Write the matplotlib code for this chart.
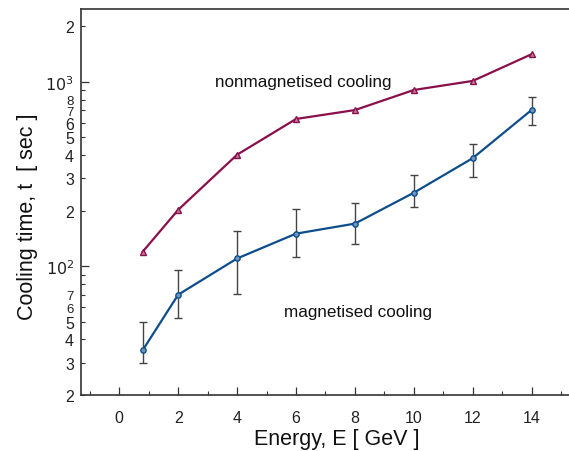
import matplotlib
matplotlib.use("Agg")
import matplotlib.pyplot as plt
import numpy as np
from matplotlib.ticker import FixedLocator, FixedFormatter

plt.rcParams['font.family'] = ['Liberation Sans', 'DejaVu Sans']

energy = [0.8, 2, 4, 6, 8, 10, 12, 14]
nonmag = [120, 202, 402, 628, 702, 902, 1010, 1410]
mag = [35.1, 70, 110, 150, 170, 250, 385, 703]
mag_hi = [49.8, 95, 155, 205, 221, 312, 459, 824]
mag_lo = [29.7, 52.6, 71, 112, 131, 210, 304, 586]

x_ticks = [0, 2, 4, 6, 8, 10, 12, 14]

fig = plt.figure(figsize=(5.69, 4.52), dpi=100)
ax = fig.add_axes([81/569, 56/452, 1 - 81/569, 386/452])

red = '#8a0f4a'
blue = '#0d4d8c'

ax.plot(energy, nonmag, color=red, lw=1.6, marker='^', ms=4.5,
        mfc='#c27a9a', mec=red, mew=1.0, zorder=3)
yerr = [np.array(mag) - np.array(mag_lo), np.array(mag_hi) - np.array(mag)]
ax.errorbar(energy, mag, yerr=yerr, fmt='none', ecolor='#444444', elinewidth=1.0,
            capsize=3, capthick=1.0, zorder=2)
ax.plot(energy, mag, color=blue, lw=1.6, marker='o', ms=3.8,
        mfc='#6f95c0', mec=blue, mew=1.0, zorder=3)

ax.set_yscale('log')
ax.set_ylim(20, 2480)
ax.set_xlim(-1.3, 15.27)

ax.xaxis.set_major_locator(FixedLocator(x_ticks))
ax.xaxis.set_minor_locator(FixedLocator([-1, 1, 3, 5, 7, 9, 11, 13, 15]))
ax.set_xticklabels([str(v) for v in x_ticks])

major_y = [100, 1000]
ax.yaxis.set_major_locator(FixedLocator(major_y))
ax.yaxis.set_major_formatter(FixedFormatter([r'$10^2$', r'$10^3$']))
minor_y = [20, 30, 40, 50, 60, 70, 80, 90, 200, 300, 400, 500, 600, 700, 800, 900, 2000]
minor_lab = ['2', '3', '4', '5', '6', '7', '', '', '2', '3', '4', '5', '6', '7', '8', '', '2']
ax.yaxis.set_minor_locator(FixedLocator(minor_y))
ax.yaxis.set_minor_formatter(FixedFormatter(minor_lab))

ax.tick_params(axis='both', which='major', direction='in', length=6, width=0.9,
               labelsize=11.5, colors='#333333', labelcolor='#222222')
ax.tick_params(axis='both', which='minor', direction='in', length=3, width=0.8,
               labelsize=11.5, colors='#333333', labelcolor='#222222')
ax.tick_params(axis='x', which='major', pad=11)
ax.tick_params(axis='y', which='both', pad=5)

# squeeze the crowded labels a bit
for lbl, val in zip(ax.yaxis.get_minorticklabels(), minor_y):
    if val in (700, 800, 60, 70):
        lbl.set_fontsize(9.5)

for s in ['right']:
    ax.spines[s].set_visible(False)
for s in ['left', 'top', 'bottom']:
    ax.spines[s].set_color('#333333')
    ax.spines[s].set_linewidth(1.2)

ax.set_xlabel('Energy, E [ GeV ]', fontsize=15.5, color='#111111')
ax.set_ylabel('Cooling time, t  [ sec ]', fontsize=15.5, color='#111111')
ax.xaxis.set_label_coords(0.525, -0.085)
ax.yaxis.set_label_coords(-0.088, 0.465)

ax.text(6.25, 1000, 'nonmagnetised cooling', fontsize=12.3, ha='center', va='center', color='#111111')
ax.text(8.1, 57, 'magnetised cooling', fontsize=12.3, ha='center', va='center', color='#111111')

fig.savefig('out.png', dpi=100)
